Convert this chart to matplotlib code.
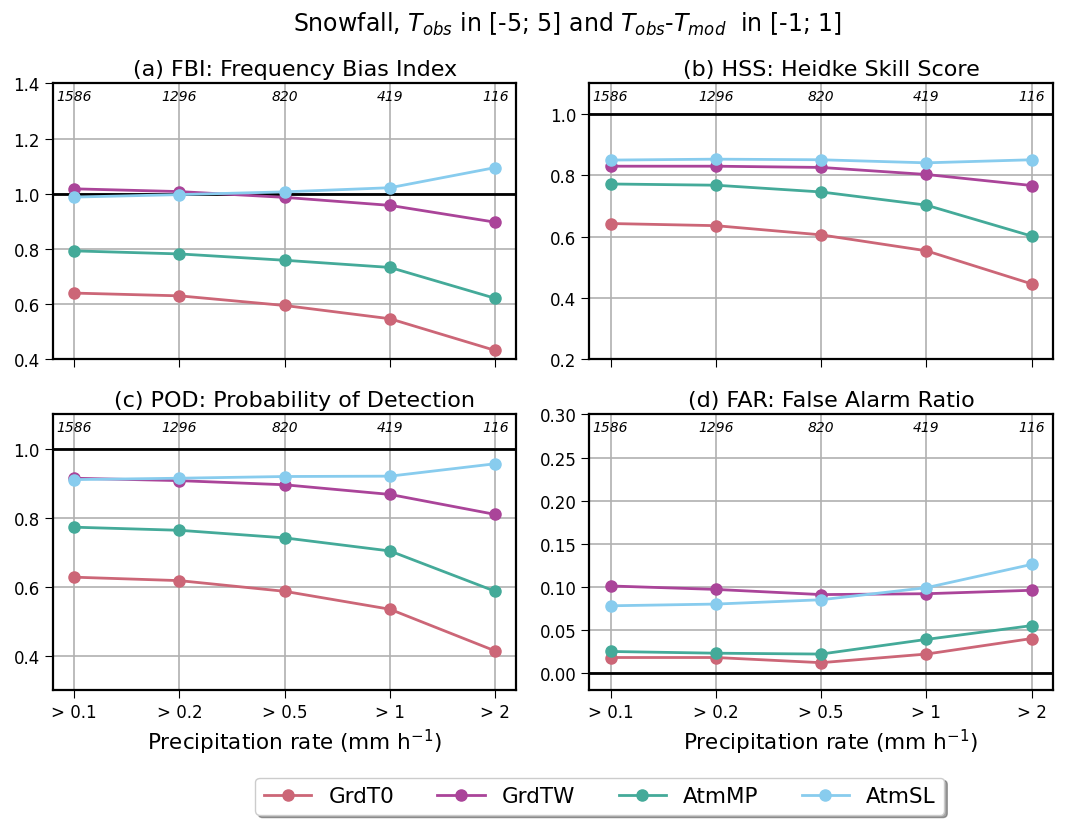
import matplotlib
matplotlib.use("Agg")
import matplotlib.pyplot as plt

thresholds = ["> 0.1", "> 0.2", "> 0.5", "> 1", "> 2"]
counts = ["1586", "1296", "820", "419", "116"]
models = ["GrdT0", "GrdTW", "AtmMP", "AtmSL"]
colors = ["#CC6677", "#AA4499", "#44AA99", "#88CCEE"]

fbi_grdt0 = [0.640, 0.630, 0.595, 0.547, 0.432]
fbi_grdtw = [1.018, 1.008, 0.987, 0.958, 0.897]
fbi_atmmp = [0.793, 0.782, 0.759, 0.733, 0.621]
fbi_atmsl = [0.988, 0.997, 1.007, 1.022, 1.095]

hss_grdt0 = [0.643, 0.636, 0.606, 0.554, 0.446]
hss_grdtw = [0.830, 0.830, 0.826, 0.803, 0.767]
hss_atmmp = [0.772, 0.768, 0.746, 0.703, 0.602]
hss_atmsl = [0.850, 0.853, 0.851, 0.841, 0.851]

pod_grdt0 = [0.628, 0.618, 0.587, 0.535, 0.414]
pod_grdtw = [0.915, 0.908, 0.896, 0.868, 0.810]
pod_atmmp = [0.773, 0.764, 0.742, 0.704, 0.587]
pod_atmsl = [0.911, 0.915, 0.920, 0.921, 0.957]

far_grdt0 = [0.018, 0.018, 0.012, 0.022, 0.040]
far_grdtw = [0.101, 0.097, 0.091, 0.092, 0.096]
far_atmmp = [0.025, 0.023, 0.022, 0.039, 0.055]
far_atmsl = [0.078, 0.080, 0.085, 0.099, 0.126]

panels = [
    ("(a) FBI: Frequency Bias Index", [fbi_grdt0, fbi_grdtw, fbi_atmmp, fbi_atmsl], (0.4, 1.4), 1.0),
    ("(b) HSS: Heidke Skill Score", [hss_grdt0, hss_grdtw, hss_atmmp, hss_atmsl], (0.2, 1.1), 1.0),
    ("(c) POD: Probability of Detection", [pod_grdt0, pod_grdtw, pod_atmmp, pod_atmsl], (0.3, 1.1), 1.0),
    ("(d) FAR: False Alarm Ratio", [far_grdt0, far_grdtw, far_atmmp, far_atmsl], (-0.02, 0.30), 0.0),
]
yticks = [
    [0.4, 0.6, 0.8, 1.0, 1.2, 1.4],
    [0.2, 0.4, 0.6, 0.8, 1.0],
    [0.4, 0.6, 0.8, 1.0],
    [0.0, 0.05, 0.10, 0.15, 0.20, 0.25, 0.30],
]

fig, axes = plt.subplots(2, 2, figsize=(10.83, 8.2), dpi=100, sharex=True)
fig.subplots_adjust(left=0.049, right=0.972, top=0.897, bottom=0.157, hspace=0.2, wspace=0.158)

x = list(range(len(thresholds)))
for ax, (title, series, ylim, ref), yt in zip(axes.flat, panels, yticks):
    ax.axhline(ref, color="black", lw=2, zorder=1)
    for vals, name, c in zip(series, models, colors):
        ax.plot(x, vals, "-o", color=c, lw=2, ms=8, label=name, zorder=3)
    ax.set_ylim(*ylim)
    ax.set_yticks(yt)
    if ref == 0.0:
        ax.set_yticklabels([f"{v:.2f}" for v in yt])
    ax.grid(True, color="#b0b0b0", lw=1.2)
    ax.set_axisbelow(True)
    ax.set_title(title, fontsize=16, x=0.522)
    ax.tick_params(labelsize=12, length=6)
    for xi, n in zip(x, counts):
        ax.text(xi, 0.953, n, transform=ax.get_xaxis_transform(), ha="center", va="center",
                style="italic", fontsize=10)
    for s in ax.spines.values():
        s.set_linewidth(1.6)

for ax in axes[1]:
    ax.set_xticks(x)
    ax.set_xticklabels(thresholds)
    ax.set_xlabel("Precipitation rate (mm h$^{-1}$)", fontsize=15.5)
    ax.xaxis.label.set_x(0.52)

fig.suptitle("Snowfall, $T_{obs}$ in [-5; 5] and $T_{obs}$-$T_{mod}$  in [-1; 1]", fontsize=17,
             x=0.524, y=0.987)

handles, labels = axes[0, 0].get_legend_handles_labels()
fig.legend(handles, labels, loc="lower center", ncol=4, fontsize=15.5, shadow=True,
           bbox_to_anchor=(0.554, -0.008), handlelength=2.2, fancybox=True)

fig.savefig("out.png", dpi=100)
